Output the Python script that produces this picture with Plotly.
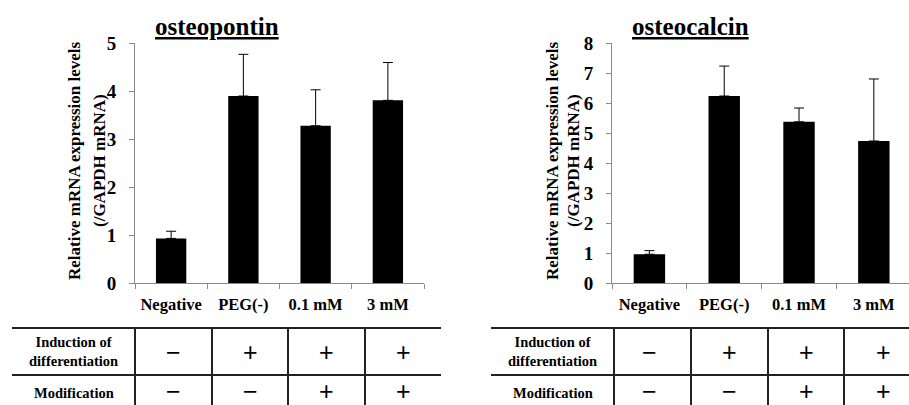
import plotly.graph_objects as go

W, H = 909, 405

categories = ["Negative", "PEG(-)", "0.1 mM", "3 mM"]
osteopontin_mean = [0.93, 3.90, 3.28, 3.81]
osteopontin_err = [0.15, 0.87, 0.75, 0.79]
osteocalcin_mean = [0.96, 6.24, 5.38, 4.74]
osteocalcin_err = [0.12, 1.00, 0.46, 2.07]

row_labels = ["Induction of<br>differentiation", "Modification"]
induction_signs = ["−", "+", "+", "+"]
modification_signs = ["−", "−", "+", "+"]

SERIF = "Liberation Serif, Times New Roman, serif"


def px(x):
    return x / W


def py(y):
    return 1 - y / H


fig = go.Figure()

fig.add_trace(go.Bar(
    x=categories, y=osteopontin_mean, xaxis="x", yaxis="y",
    marker=dict(color="black", line=dict(width=0)), width=0.42,
    error_y=dict(type="data", symmetric=False, array=osteopontin_err,
                 arrayminus=[0] * 4, color="black", thickness=1, width=5),
    showlegend=False,
))
fig.add_trace(go.Bar(
    x=categories, y=osteocalcin_mean, xaxis="x2", yaxis="y2",
    marker=dict(color="black", line=dict(width=0)), width=0.42,
    error_y=dict(type="data", symmetric=False, array=osteocalcin_err,
                 arrayminus=[0] * 4, color="black", thickness=1, width=5),
    showlegend=False,
))

ydom = [py(283), py(43.3)]
axis_common = dict(showline=True, linecolor="#8a8a8a", linewidth=1,
                   ticks="outside", tickcolor="#8a8a8a", ticklen=5,
                   showgrid=False, zeroline=False, fixedrange=True)
xfont = dict(family=SERIF, size=16.5, color="black", weight="bold")
yfont = dict(family=SERIF, size=19, color="black", weight="bold")

fig.update_layout(
    width=W, height=H, autosize=False,
    margin=dict(l=0, r=0, t=0, b=0, pad=0, autoexpand=False),
    paper_bgcolor="white", plot_bgcolor="white",
    xaxis=dict(domain=[px(135), px(424)], anchor="y", range=[-0.5, 3.5],
               tickson="boundaries", tickfont=xfont, ticklabelstandoff=6,
               **axis_common),
    yaxis=dict(domain=ydom, anchor="x", range=[0, 5], dtick=1,
               tickfont=yfont, ticklabelstandoff=9, **axis_common),
    xaxis2=dict(domain=[px(612), 1.0], anchor="y2", range=[-0.5, 3.47],
                tickson="boundaries", tickfont=xfont, ticklabelstandoff=6,
                **axis_common),
    yaxis2=dict(domain=ydom, anchor="x2", range=[0, 8], dtick=1,
                tickfont=yfont, ticklabelstandoff=9, **axis_common),
)

annotations = []
shapes = []

panels = [
    dict(title="osteopontin", title_x=217, ytitle_x=[75, 100],
         table_x=[12, 441], vlines=[135, 212, 288, 365],
         label_x=73.5, sign_x=[173.5, 250, 326.5, 403]),
    dict(title="osteocalcin", title_x=690.5, ytitle_x=[553, 574],
         table_x=[491, 909], vlines=[614, 691, 768, 844],
         label_x=552.5, sign_x=[649, 729, 806, 883]),
]

for p in panels:
    annotations.append(dict(
        text="<b><u>" + p["title"] + "</u></b>", x=px(p["title_x"]), y=py(27),
        xref="paper", yref="paper", showarrow=False, xanchor="center", yanchor="middle",
        font=dict(family=SERIF, size=25, color="black")))
    for txt, xx in zip(["Relative mRNA expression levels", "(/GAPDH mRNA)"], p["ytitle_x"]):
        annotations.append(dict(
            text="<b>" + txt + "</b>", x=px(xx), y=py(161), textangle=-90,
            xref="paper", yref="paper", showarrow=False, xanchor="center", yanchor="middle",
            font=dict(family=SERIF, size=17, color="black")))
    for yy in [328, 375]:
        shapes.append(dict(type="line", xref="paper", yref="paper",
                           x0=px(p["table_x"][0]), x1=px(p["table_x"][1]), y0=py(yy), y1=py(yy),
                           line=dict(color="#222", width=2)))
    for xx in p["vlines"]:
        shapes.append(dict(type="line", xref="paper", yref="paper",
                           x0=px(xx), x1=px(xx), y0=py(328), y1=py(H + 2),
                           line=dict(color="#222", width=2)))
    for lbl, yy in zip(row_labels, [351.5, 392.5]):
        annotations.append(dict(
            text="<b>" + lbl + "</b>", x=px(p["label_x"]), y=py(yy),
            xref="paper", yref="paper", showarrow=False, xanchor="center", yanchor="middle",
            font=dict(family=SERIF, size=14.5, color="black")))
    for signs, yy in zip([induction_signs, modification_signs], [351.5, 391]):
        for s, xx in zip(signs, p["sign_x"]):
            annotations.append(dict(
                text=s, x=px(xx), y=py(yy),
                xref="paper", yref="paper", showarrow=False, xanchor="center", yanchor="middle",
                font=dict(family="Liberation Sans, Arial, sans-serif", size=25, color="black")))

fig.update_layout(annotations=annotations, shapes=shapes)

fig.write_html(
    "out.html",
    config={"displayModeBar": False},
    post_script="document.body.style.margin='0';document.body.style.overflow='hidden';",
)
